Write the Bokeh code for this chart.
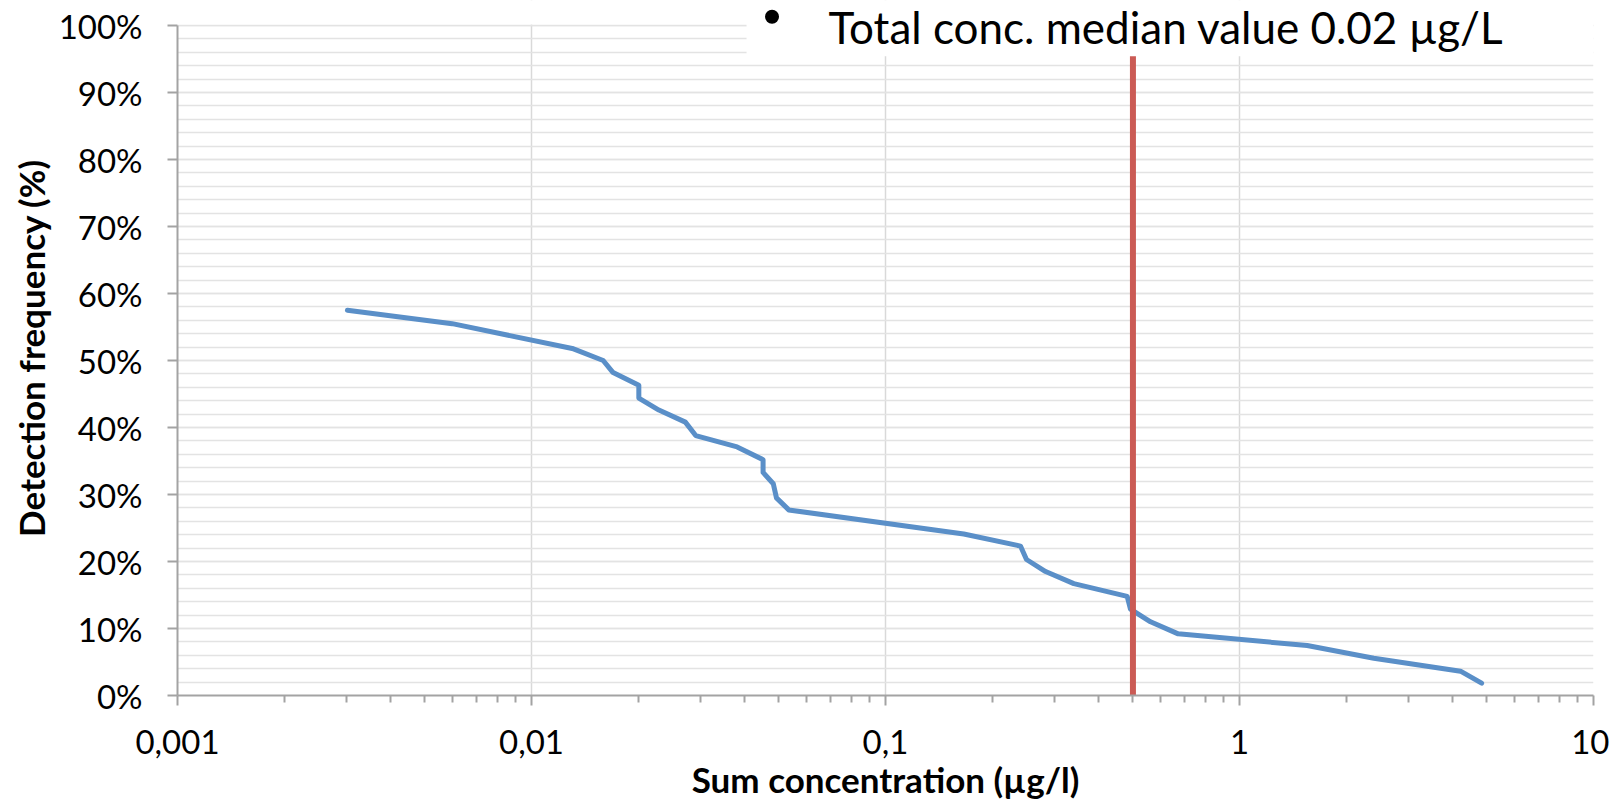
from bokeh.plotting import figure
from bokeh.models import FixedTicker, BoxAnnotation, Label, ColumnDataSource
from bokeh.embed import file_html
from bokeh.resources import INLINE

# ---- data ----
conc = [0.00302, 0.00597, 0.01303, 0.01594, 0.0170, 0.0201, 0.0201, 0.0229,
        0.0272, 0.0291, 0.0381, 0.0451, 0.0451, 0.0482, 0.0492, 0.0533,
        0.1664, 0.2406, 0.2502, 0.2833, 0.3404, 0.4817, 0.492, 0.5606,
        0.671, 1.553, 2.396, 4.21, 4.83]
freq = [57.5, 55.5, 51.8, 50.0, 48.2, 46.3, 44.4, 42.6,
        40.8, 38.8, 37.1, 35.2, 33.3, 31.6, 29.5, 27.7,
        24.1, 22.3, 20.3, 18.5, 16.7, 14.8, 12.9, 11.0,
        9.2, 7.46, 5.57, 3.63, 1.84]
marker_x = [0.5, 0.5]
marker_y = [0, 100]

x_ticks = [0.001, 0.01, 0.1, 1, 10]
x_tick_labels = ["0,001", "0,01", "0,1", "1", "10"]
x_minor = [k * d for d in [0.001, 0.01, 0.1, 1] for k in range(2, 10)]
y_ticks = [0, 10, 20, 30, 40, 50, 60, 70, 80, 90, 100]
y_tick_labels = ["0%", "10%", "20%", "30%", "40%", "50%", "60%", "70%", "80%", "90%", "100%"]
y_minor = list(range(0, 101, 2))

note_text = "Total conc. median value  0.02 µg/L"

BLUE = "#5A8FC8"
RED = "#CB5B55"
AXIS = "#A3A3A3"
GRID = "#E3E3E3"

PX_PER_PCT = 6.7
FRAME_H = 695                      # frame reaches canvas top; 100 % sits 25 px below it
Y_TOP = FRAME_H / PX_PER_PCT

p = figure(frame_width=1416, frame_height=FRAME_H, x_axis_type="log",
           x_range=(0.001, 10), y_range=(0, Y_TOP),
           output_backend="svg", toolbar_location=None,
           min_border_left=177, min_border_right=16, min_border_top=0,
           min_border_bottom=112)
p.outline_line_color = None
p.background_fill_color = "white"
p.border_fill_color = "white"

xa = p.xaxis[0]
xa.ticker = FixedTicker(ticks=x_ticks, minor_ticks=x_minor)
xa.major_label_overrides = {t: l for t, l in zip(x_ticks, x_tick_labels)}
xa.axis_label = "Sum concentration (µg/l)"
ya = p.yaxis[0]
ya.ticker = FixedTicker(ticks=y_ticks, minor_ticks=y_minor)
ya.major_label_overrides = {t: l for t, l in zip(y_ticks, y_tick_labels)}
ya.axis_label = "Detection frequency (%)"
ya.minor_tick_line_color = None
ya.bounds = (0, 100)

for ax in (xa, ya):
    ax.axis_line_color = AXIS
    ax.axis_line_width = 2
    ax.major_tick_line_color = AXIS
    ax.major_tick_line_width = 2
    ax.major_tick_in = 0
    ax.major_tick_out = 10
    ax.major_label_text_font = "Lato"
    ax.major_label_text_font_size = "33px"
    ax.major_label_text_color = "black"
    ax.axis_label_text_font = "Lato"
    ax.axis_label_text_font_size = "35px"
    ax.axis_label_text_font_style = "bold"
    ax.axis_label_text_color = "black"

xa.minor_tick_line_color = AXIS
xa.minor_tick_line_width = 2
xa.minor_tick_in = 0
xa.minor_tick_out = 7
xa.major_label_standoff = 24
xa.axis_label_standoff = 1
ya.major_label_standoff = 25
ya.axis_label_standoff = 4

p.xgrid.grid_line_color = "#D9D9D9"
p.xgrid.grid_line_width = 1.5
p.xgrid.minor_grid_line_color = None
p.ygrid.grid_line_color = GRID
p.ygrid.grid_line_width = 1.5
p.ygrid.minor_grid_line_color = GRID
p.ygrid.minor_grid_line_width = 1.5

src = ColumnDataSource(dict(x=conc, y=freq))
p.line("x", "y", source=src, line_color=BLUE, line_width=5, line_join="round", line_cap="round")
p.line(marker_x, marker_y, line_color=RED, line_width=6)

# white areas: above the 100 % line, and the text box at the top right
p.add_layout(BoxAnnotation(left=0.001, right=10, bottom=100.15, top=Y_TOP,
                           fill_color="white", fill_alpha=1.0, line_color=None, line_alpha=0))
p.add_layout(BoxAnnotation(left=0.0405, right=10, bottom=95.4, top=Y_TOP,
                           fill_color="white", fill_alpha=1.0, line_color=None, line_alpha=0))
# bullet of the note
p.scatter([0.0478], [101.3], marker="circle", size=14, fill_color="black", line_color=None,
          level="overlay")
p.add_layout(Label(x=0.069, y=Y_TOP - 0.5 / PX_PER_PCT, text=note_text, text_font="Lato",
                   text_font_size="44px", text_align="left", text_baseline="top",
                   text_color="black"))

open("out.html", "w").write(file_html(p, INLINE))
